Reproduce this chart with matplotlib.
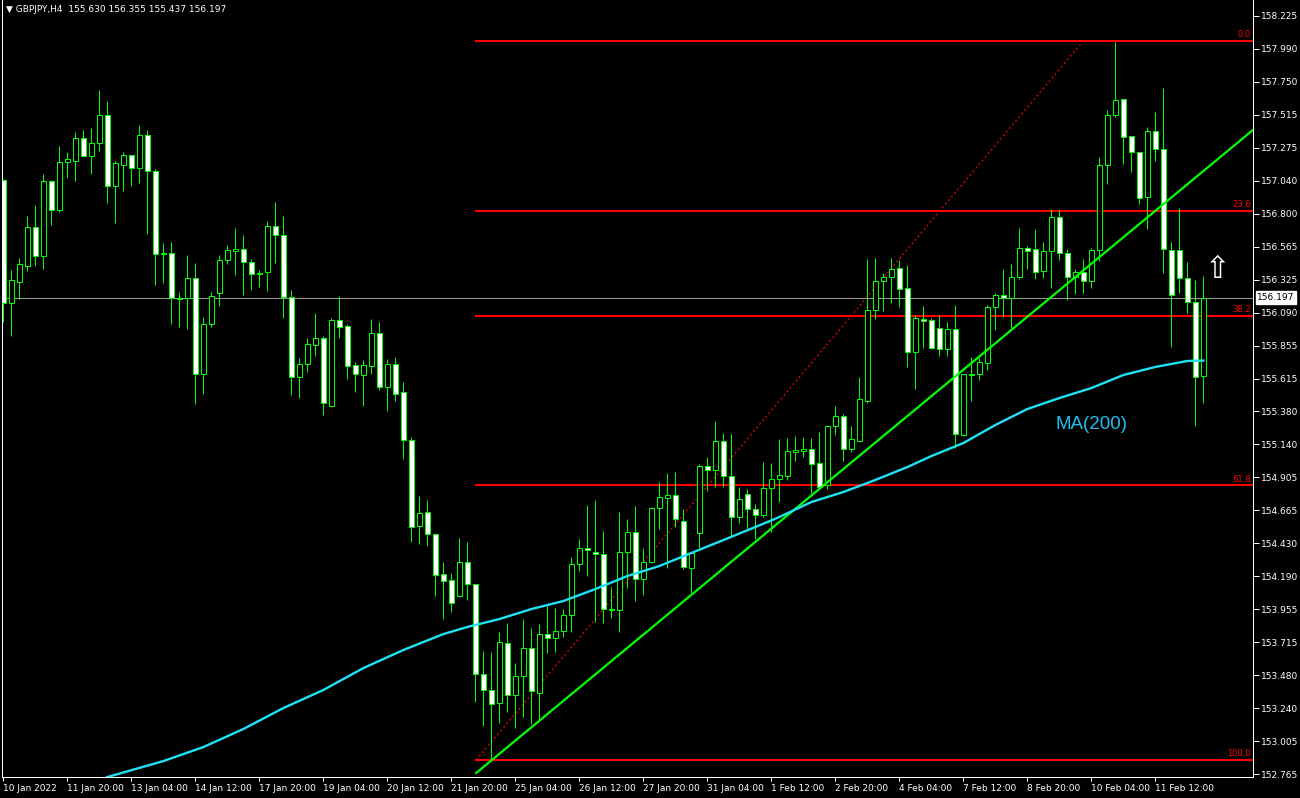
import matplotlib.pyplot as plt
import matplotlib.transforms as mtransforms
import numpy as np

# GBPJPY H4 bars (bar index 0 = 10 Jan 2022 12:00)
opens = [
    157.044, 156.155, 156.311, 156.426, 156.703, 156.498, 157.034, 156.830, 157.175, 157.183,
    157.344, 157.218, 157.312, 157.510, 157.002, 157.154, 157.221, 157.132, 157.365, 157.106,
    156.518, 156.518, 156.194, 156.191, 156.335, 155.644, 156.004, 156.232, 156.465, 156.530,
    156.544, 156.451, 156.371, 156.379, 156.710, 156.645, 156.203, 155.627, 155.716, 155.857,
    155.903, 155.418, 156.033, 155.990, 155.709, 155.641, 155.706, 155.939, 155.555, 155.716,
    155.514, 155.169, 154.553, 154.650, 154.491, 154.203, 154.160, 154.049, 154.290, 154.131,
    153.483, 153.368, 153.274, 153.706, 153.332, 153.469, 153.670, 153.346, 153.771, 153.742,
    153.793, 153.908, 154.275, 154.391, 154.362, 154.347, 153.951, 153.944, 154.362, 154.506,
    154.167, 154.290, 154.679, 154.751, 154.772, 154.585, 154.247, 154.499, 154.981, 154.952,
    155.161, 154.909, 154.614, 154.780, 154.672, 154.628, 154.823, 154.892, 154.914, 155.086,
    155.089, 155.104, 155.003, 154.844, 155.269, 155.341, 155.104, 155.166, 155.454, 156.105,
    156.314, 156.343, 156.407, 156.263, 155.802, 156.040, 156.033, 155.975, 155.824, 155.968,
    155.205, 155.644, 155.644, 155.723, 156.127, 156.213, 156.191, 156.343, 156.552, 156.544,
    156.386, 156.530, 156.775, 156.516, 156.343, 156.379, 156.314, 156.537, 157.149, 157.510,
    157.625, 157.358, 157.243, 156.919, 157.394, 157.265, 156.537, 156.537, 156.335, 156.163,
    155.630,
]
highs = [
    157.051, 156.395, 156.479, 156.784, 156.863, 157.087, 157.044, 157.288, 157.245, 157.391,
    157.404, 157.418, 157.692, 157.613, 157.180, 157.245, 157.224, 157.440, 157.404, 157.123,
    156.590, 156.597, 156.237, 156.503, 156.446, 156.057, 156.237, 156.503, 156.575, 156.698,
    156.647, 156.474, 156.395, 156.748, 156.885, 156.784, 156.251, 155.759, 155.903, 156.085,
    155.920, 156.047, 156.208, 156.006, 155.730, 155.747, 156.042, 156.021, 155.754, 155.769,
    155.588, 155.192, 154.767, 154.738, 154.499, 154.290, 154.213, 154.465, 154.436, 154.133,
    153.651, 153.641, 153.788, 153.852, 153.562, 153.881, 153.816, 153.845, 153.975, 153.961,
    153.953, 154.328, 154.458, 154.702, 154.738, 154.515, 154.112, 154.652, 154.602, 154.695,
    154.393, 154.688, 154.868, 154.933, 154.940, 154.674, 154.355, 154.996, 155.046, 155.308,
    155.223, 155.216, 154.830, 154.818, 154.708, 155.012, 155.005, 155.178, 155.185, 155.199,
    155.192, 155.183, 155.226, 155.279, 155.418, 155.356, 155.272, 155.624, 156.474, 156.482,
    156.374, 156.482, 156.467, 156.431, 156.069, 156.134, 156.047, 156.069, 156.018, 156.143,
    155.644, 155.771, 155.759, 156.141, 156.227, 156.400, 156.438, 156.696, 156.566, 156.688,
    156.595, 156.832, 156.827, 156.544, 156.400, 156.472, 156.554, 157.209, 157.548, 158.040,
    157.625, 157.358, 157.243, 157.423, 157.531, 157.704, 156.595, 156.840, 156.451, 156.321,
    156.355,
]
lows = [
    156.021, 155.922, 156.184, 156.390, 156.426, 156.405, 156.722, 156.815, 157.060, 157.038,
    157.215, 157.087, 157.252, 156.878, 156.734, 156.964, 157.000, 157.022, 156.655, 156.287,
    156.304, 156.008, 155.982, 155.972, 155.432, 155.504, 155.985, 156.138, 156.441, 156.359,
    156.215, 156.251, 156.275, 156.244, 156.446, 156.052, 155.495, 155.475, 155.663, 155.776,
    155.353, 155.408, 155.908, 155.612, 155.519, 155.416, 155.646, 155.531, 155.382, 155.454,
    155.034, 154.438, 154.424, 154.409, 154.049, 153.881, 153.934, 154.038, 154.018, 153.286,
    153.113, 152.866, 153.134, 153.211, 153.098, 153.178, 153.125, 153.154, 153.634, 153.646,
    153.754, 153.790, 154.229, 154.191, 153.862, 153.855, 153.891, 153.790, 154.102, 154.011,
    154.056, 154.283, 154.527, 154.247, 154.546, 154.240, 154.066, 154.391, 154.805, 154.830,
    154.830, 154.470, 154.571, 154.532, 154.460, 154.618, 154.506, 154.726, 154.883, 155.022,
    155.046, 154.787, 154.825, 154.818, 155.207, 155.022, 155.086, 155.160, 155.439, 156.044,
    156.102, 156.160, 156.131, 155.699, 155.540, 155.836, 155.826, 155.774, 155.774, 155.111,
    155.200, 155.449, 155.601, 155.673, 155.961, 156.054, 155.975, 156.328, 156.400, 156.328,
    156.335, 156.263, 156.465, 156.177, 156.220, 156.227, 156.263, 156.458, 157.017, 157.497,
    157.161, 157.099, 156.868, 156.688, 157.183, 156.371, 155.838, 156.227, 156.083, 155.274,
    155.437,
]
closes = [
    156.158, 156.323, 156.436, 156.703, 156.498, 157.034, 156.830, 157.171, 157.193, 157.344,
    157.218, 157.308, 157.510, 157.002, 157.164, 157.221, 157.132, 157.365, 157.106, 156.513,
    156.514, 156.191, 156.188, 156.335, 155.644, 156.004, 156.206, 156.465, 156.537, 156.544,
    156.451, 156.369, 156.369, 156.710, 156.649, 156.203, 155.627, 155.716, 155.860, 155.903,
    155.439, 156.033, 155.987, 155.706, 155.648, 155.709, 155.939, 155.555, 155.716, 155.504,
    155.169, 154.546, 154.643, 154.496, 154.200, 154.157, 153.999, 154.290, 154.131, 153.483,
    153.368, 153.267, 153.713, 153.332, 153.469, 153.670, 153.361, 153.771, 153.742, 153.793,
    153.908, 154.275, 154.391, 154.376, 154.347, 153.951, 153.949, 154.362, 154.506, 154.169,
    154.290, 154.679, 154.758, 154.772, 154.599, 154.254, 154.355, 154.981, 154.952, 155.161,
    154.909, 154.614, 154.744, 154.672, 154.628, 154.823, 154.888, 154.916, 155.089, 155.096,
    155.104, 154.996, 154.834, 155.269, 155.341, 155.104, 155.176, 155.464, 156.105, 156.314,
    156.343, 156.400, 156.256, 155.807, 156.047, 156.026, 155.837, 155.824, 155.968, 155.212,
    155.644, 155.642, 155.730, 156.127, 156.213, 156.191, 156.343, 156.552, 156.530, 156.379,
    156.530, 156.775, 156.516, 156.343, 156.379, 156.314, 156.537, 157.149, 157.510, 157.618,
    157.351, 157.243, 156.912, 157.394, 157.265, 156.544, 156.213, 156.335, 156.163, 155.627,
    156.197,
]

# MA(200) read at a few bars
ma_bars = [13, 20, 25, 30, 35, 40, 45, 50, 55, 58, 62, 66, 70, 74, 78, 82, 86, 90, 94, 97,
           101, 105, 109, 113, 116, 120, 124, 128, 132, 136, 140, 144, 148, 150]
ma_vals = [152.743, 152.858, 152.959, 153.089, 153.240, 153.370, 153.528, 153.658, 153.773,
           153.824, 153.881, 153.953, 154.011, 154.097, 154.191, 154.263, 154.357, 154.450,
           154.544, 154.616, 154.724, 154.796, 154.883, 154.976, 155.055, 155.149, 155.279,
           155.394, 155.473, 155.545, 155.639, 155.697, 155.740, 155.743]

date_labels = ['10 Jan 2022', '11 Jan 20:00', '13 Jan 04:00', '14 Jan 12:00', '17 Jan 20:00',
               '19 Jan 04:00', '20 Jan 12:00', '21 Jan 20:00', '25 Jan 04:00', '26 Jan 12:00',
               '27 Jan 20:00', '31 Jan 04:00', '1 Feb 12:00', '2 Feb 20:00', '4 Feb 04:00',
               '7 Feb 12:00', '8 Feb 20:00', '10 Feb 04:00', '11 Feb 12:00']
price_labels = ['158.225', '157.990', '157.750', '157.515', '157.275', '157.040', '156.800',
                '156.565', '156.325', '156.090', '155.855', '155.615', '155.380', '155.140',
                '154.905', '154.665', '154.430', '154.190', '153.955', '153.715', '153.480',
                '153.240', '153.005', '152.765']

fib_high = 158.045
fib_low = 152.866
fib_levels = [0.0, 23.6, 38.2, 61.8, 100.0]
fib_start = 59.1
fib_end_bar = 135.0
trend_bars = [59.1, 156.2]
trend_prices = [152.772, 157.404]
last_price = 156.197

GREEN = '#00ff00'
px = 0.72  # one pixel in points

fig = plt.figure(figsize=(13, 7.98), dpi=100, facecolor='black')
ax = fig.add_axes([2 / 1300, 21 / 798, 1251 / 1300, 777 / 798])
ax.set_facecolor('black')

x = np.arange(len(opens))
o = np.array(opens)
c = np.array(closes)
bear = c < o

ax.vlines(x, lows, highs, color=GREEN, lw=px, zorder=3)
ax.bar(x, np.abs(c - o), bottom=np.minimum(o, c), width=0.56,
       color=np.where(bear, 'white', 'black'), edgecolor=GREEN, linewidth=px, zorder=4)

# current price line
ax.axhline(last_price, color='#9a9a9a', lw=px, zorder=1)

# fibonacci retracement
for lvl in fib_levels:
    p = fib_high - (fib_high - fib_low) * lvl / 100
    ax.plot([fib_start, 160], [p, p], color='red', lw=1.5, zorder=2)
    ax.text(155.95, p + 0.012, f'{lvl:.1f}', color='red', fontsize=6,
            ha='right', va='bottom', zorder=6)
ax.plot([fib_start, fib_end_bar], [fib_low, fib_high], color='red', lw=1.0,
        ls=(0, (1.2, 2.2)), zorder=2)

# trend line and moving average
ax.plot(trend_bars, trend_prices, color=GREEN, lw=1.6, zorder=5)
ax.plot(ma_bars, ma_vals, color='#1ee3f5', lw=1.7, zorder=5)
ax.text(131.5, 155.279, 'MA(200)', color='#1fbfef', fontsize=13.5,
        family='Liberation Sans', ha='left', va='center', zorder=6)
ax.text(151.8, 156.40, '\u21e7', color='white', fontsize=22, ha='center',
        va='center', zorder=6)

ax.set_xlim(-0.16, 156.2)
ax.set_ylim(152.7435, 158.340)

# axes styling
for side in ['left', 'right', 'bottom']:
    ax.spines[side].set_color('white')
    ax.spines[side].set_linewidth(px)
ax.spines['top'].set_visible(False)

ax.yaxis.tick_right()
yt = [158.225 - i * (158.225 - 152.765) / 23 for i in range(len(price_labels))]
ax.set_yticks(yt)
ax.set_yticklabels(price_labels)
ax.set_xticks(np.arange(0, 8 * len(date_labels), 8))
ax.set_xticklabels(date_labels, ha='left')
ax.tick_params(axis='y', colors='white', labelsize=6.5, length=4, width=px, pad=2)
ax.tick_params(axis='x', colors='white', labelsize=6.5, length=3, width=px, pad=2)

trans = mtransforms.blended_transform_factory(ax.transAxes, ax.transData)
ax.text(1.0035, last_price, '156.197', transform=trans, color='black', fontsize=6.5,
        ha='left', va='center', zorder=7,
        bbox=dict(facecolor='white', edgecolor='white', pad=1.2))

fig.text(6 / 1300, 1 - 10 / 798, '\u25bc GBPJPY,H4  155.630 156.355 155.437 156.197',
         color='white', fontsize=6.5, va='center', ha='left')

fig.savefig('out.png', dpi=100, facecolor='black')
